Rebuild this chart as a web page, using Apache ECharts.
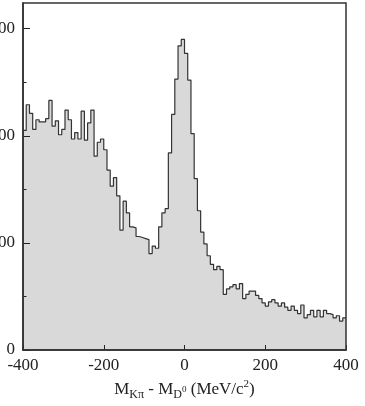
<!DOCTYPE html>
<html>
<head>
<meta charset="utf-8">
<script src="https://cdn.jsdelivr.net/npm/echarts@6/dist/echarts.min.js"></script>
<style>
  html, body { margin: 0; padding: 0; background: #fff; }
  #chart { width: 365px; height: 406px; }
</style>
</head>
<body>
<div id="chart"></div>
<script>
// Mass-difference histogram: 8 MeV bins from -400 to 400 MeV/c^2
const histMin = -400;
const histMax = 400;
const binWidth = 8;
const counts = [
  205, 229, 221, 206, 215, 213, 213, 216, 233, 209,
  214, 201, 206, 224, 215, 197, 203, 197, 223, 196,
  212, 224, 181, 194, 197, 187, 168, 153, 161, 144,
  112, 139, 128, 115, 114, 106, 105, 104, 103, 90,
  97, 95, 115, 128, 132, 184, 220, 253, 284, 290,
  277, 252, 202, 160, 130, 110, 99, 88, 80, 75,
  78, 75, 52, 57, 59, 61, 57, 62, 48, 52,
  55, 55, 51, 48, 44, 41, 45, 47, 44, 41,
  44, 40, 37, 41, 37, 34, 42, 30, 33, 37,
  31, 37, 31, 37, 34, 33, 30, 32, 27, 30
];
const xTicks = [-400, -200, 0, 200, 400];
const yMajorTicks = [0, 100, 200, 300];
const yMinorTicks = [50, 150, 250];
const yMax = 324;

// step outline: each bin's left edge, plus the closing right edge
const stepData = counts.map((c, i) => [histMin + i * binWidth, c]);
stepData.push([histMax, counts[counts.length - 1]]);

const serif = '"Liberation Serif", "DejaVu Serif", serif';
const ink = '#222';

const chart = echarts.init(document.getElementById('chart'), null, { renderer: 'canvas' });
chart.setOption({
  animation: false,
  backgroundColor: '#fff',
  grid: {
    left: 23, right: 19, top: 3, bottom: 56,
    containLabel: false,
    outerBoundsMode: 'none',
    show: true, z: 10,
    borderColor: '#333', borderWidth: 1.5,
    backgroundColor: 'transparent'
  },
  xAxis: {
    type: 'value',
    min: histMin, max: histMax, interval: 200,
    z: 5,
    axisLine: { show: true, onZero: false, lineStyle: { color: ink, width: 1.5 } },
    axisTick: { show: true, inside: true, length: 5, customValues: xTicks, lineStyle: { color: ink, width: 1 } },
    axisLabel: { customValues: xTicks, margin: 7, color: ink, fontFamily: serif, fontSize: 17 },
    splitLine: { show: false },
    name: '{m|M}{sub|Kπ}{m| - M}{sub|D}{tiny|0}{m| (MeV/c}{sup|2}{m|)}',
    nameLocation: 'middle',
    nameGap: 29,
    nameTextStyle: {
      color: ink, fontFamily: serif, fontSize: 17,
      rich: {
        m: { fontFamily: serif, fontSize: 17, color: ink, lineHeight: 22 },
        sub: { fontFamily: serif, fontSize: 12, color: ink, lineHeight: 11, verticalAlign: 'bottom' },
        tiny: { fontFamily: serif, fontSize: 9, color: ink, lineHeight: 15, verticalAlign: 'middle' },
        sup: { fontFamily: serif, fontSize: 11, color: ink, lineHeight: 11, verticalAlign: 'top' }
      }
    }
  },
  yAxis: [
    {
      type: 'value',
      min: 0, max: yMax,
      position: 'left',
      z: 5,
      axisLine: { show: true, onZero: false, lineStyle: { color: ink, width: 1.5 } },
      axisTick: { show: true, inside: true, length: 7, customValues: yMajorTicks, lineStyle: { color: ink, width: 1 } },
      axisLabel: { customValues: yMajorTicks, margin: 8, color: ink, fontFamily: serif, fontSize: 17 },
      splitLine: { show: false }
    },
    {
      type: 'value',
      min: 0, max: yMax,
      position: 'left',
      z: 5,
      axisLine: { show: false, onZero: false },
      axisTick: { show: true, inside: true, length: 3.5, customValues: yMinorTicks, lineStyle: { color: ink, width: 1 } },
      axisLabel: { show: false },
      splitLine: { show: false }
    }
  ],
  series: [
    {
      type: 'line',
      step: 'end',
      data: stepData,
      symbol: 'none',
      z: 2,
      lineStyle: { color: '#333', width: 1.2 },
      areaStyle: { color: '#d9d9d9', opacity: 1 }
    }
  ]
});
</script>
</body>
</html>
